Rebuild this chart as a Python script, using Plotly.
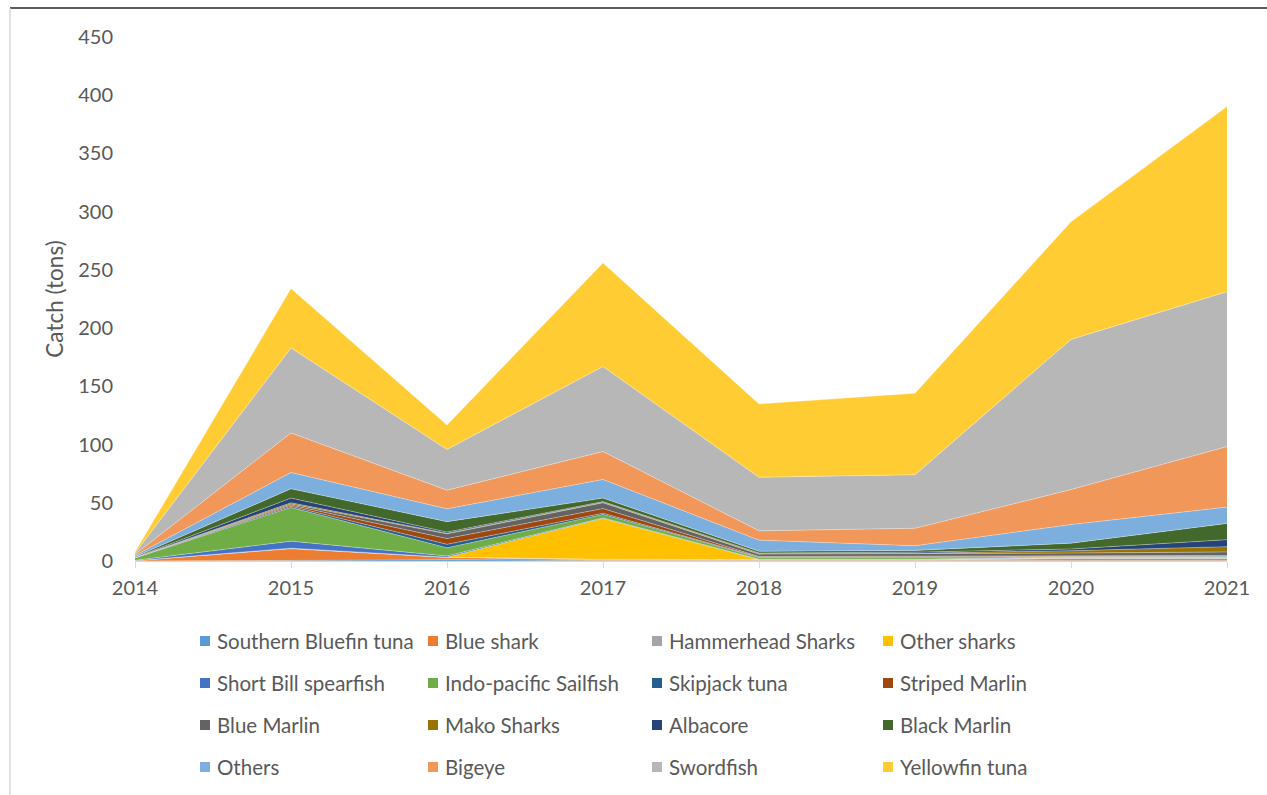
import plotly.graph_objects as go

years = [2014, 2015, 2016, 2017, 2018, 2019, 2020, 2021]

series_names = [
    "Southern Bluefin tuna", "Blue shark", "Hammerhead Sharks", "Other sharks",
    "Short Bill spearfish", "Indo-pacific Sailfish", "Skipjack tuna", "Striped Marlin",
    "Blue Marlin", "Mako Sharks", "Albacore", "Black Marlin",
    "Others", "Bigeye", "Swordfish", "Yellowfin tuna",
]

southern_bluefin = [0.0, 0.5, 1.0, 0.5, 0.3, 0.3, 0.5, 0.5]
blue_shark       = [0.3, 10.0, 2.0, 0.5, 0.5, 0.5, 1.5, 1.5]
hammerhead       = [0.0, 0.5, 0.3, 0.5, 0.5, 0.5, 0.5, 0.5]
other_sharks     = [0.0, 0.0, 0.0, 35.0, 0.0, 0.0, 0.5, 0.5]
short_bill       = [0.3, 6.0, 1.0, 0.5, 0.3, 0.3, 0.3, 0.3]
sailfish         = [2.0, 29.0, 7.0, 3.0, 1.5, 1.5, 0.5, 0.5]
skipjack         = [0.2, 1.0, 3.0, 1.0, 0.3, 0.5, 0.5, 0.5]
striped_marlin   = [0.1, 1.0, 5.0, 4.0, 0.5, 0.5, 0.5, 0.5]
blue_marlin      = [0.1, 1.0, 4.0, 5.0, 2.0, 2.0, 2.0, 3.0]
mako             = [0.1, 1.0, 0.5, 0.5, 0.5, 0.5, 2.0, 4.5]
albacore         = [0.1, 4.0, 1.0, 0.5, 0.5, 1.0, 1.5, 6.0]
black_marlin     = [0.5, 8.0, 9.0, 3.0, 1.5, 1.5, 5.0, 14.0]
others           = [1.0, 14.0, 11.0, 16.0, 9.5, 4.0, 16.0, 14.0]
bigeye           = [1.0, 34.0, 16.0, 24.0, 8.0, 15.0, 30.0, 52.0]
swordfish        = [1.0, 73.0, 35.0, 73.0, 46.0, 46.0, 129.0, 133.0]
yellowfin        = [1.0, 51.0, 21.0, 89.0, 63.0, 70.0, 101.0, 159.0]

series_values = [
    southern_bluefin, blue_shark, hammerhead, other_sharks,
    short_bill, sailfish, skipjack, striped_marlin,
    blue_marlin, mako, albacore, black_marlin,
    others, bigeye, swordfish, yellowfin,
]

colors = [
    "#5B9BD5", "#ED7D31", "#A5A5A5", "#FFC000",
    "#4472C4", "#70AD47", "#255E91", "#9E480E",
    "#636363", "#997300", "#264478", "#43682B",
    "#7CAFDD", "#F1975A", "#B7B7B7", "#FFCD33",
]

y_ticks = [0, 50, 100, 150, 200, 250, 300, 350, 400, 450]

W, H = 1267, 795
L, R, T, B = 135, 40, 37, 234
PW, PH = W - L - R, H - T - B

def px_to_paper(px, py):
    return (px - L) / PW, (H - B - py) / PH

FONT = "Lato, Calibri, 'Liberation Sans', sans-serif"
TXT = "#595959"

fig = go.Figure()
for name, vals, col in zip(series_names, series_values, colors):
    fig.add_trace(go.Scatter(
        x=years, y=vals, name=name, mode="lines", stackgroup="one",
        fillcolor=col, line=dict(width=0.6, color="rgba(255,255,255,0.55)"),
        showlegend=False,
    ))

# manual legend (4 columns x 4 rows)
col_x = [200, 428, 652, 883]
row_y = [641, 683, 725, 767]
shapes = []
annotations = []
for i, (name, col) in enumerate(zip(series_names, colors)):
    r, c = divmod(i, 4)
    x0, y0 = px_to_paper(col_x[c], row_y[r] - 5)
    x1, y1 = px_to_paper(col_x[c] + 10, row_y[r] + 5)
    shapes.append(dict(type="rect", xref="paper", yref="paper", x0=x0, x1=x1,
                       y0=y1, y1=y0, fillcolor=col, line=dict(width=0)))
    tx, ty = px_to_paper(col_x[c] + 15, row_y[r])
    annotations.append(dict(text=name, xref="paper", yref="paper", x=tx, y=ty,
                            xanchor="left", yanchor="middle", showarrow=False,
                            font=dict(size=20.5, color=TXT, family=FONT)))

# frame lines
fx0, fy0 = px_to_paper(10, 8)
fx1, _ = px_to_paper(W, 8)
_, fyb = px_to_paper(10, H)
shapes.append(dict(type="line", xref="paper", yref="paper", x0=fx0, x1=fx1, y0=fy0, y1=fy0,
                   line=dict(color="#262626", width=1.5)))
shapes.append(dict(type="line", xref="paper", yref="paper", x0=fx0, x1=fx0, y0=fy0, y1=fyb,
                   line=dict(color="#D9D9D9", width=1.5)))

fig.update_layout(
    width=W, height=H,
    margin=dict(l=L, r=R, t=T, b=B),
    paper_bgcolor="white", plot_bgcolor="white",
    font=dict(family=FONT, size=20, color=TXT),
    shapes=shapes, annotations=annotations,
    showlegend=False,
    xaxis=dict(
        range=[2014, 2021], tickvals=years, ticktext=[str(y) for y in years],
        showgrid=False, zeroline=False, showline=True, linecolor="#D9D9D9", linewidth=1,
        ticks="outside", ticklen=6, tickcolor="#D9D9D9", ticklabelstandoff=3,
        tickfont=dict(size=20, color=TXT, family=FONT),
    ),
    yaxis=dict(
        range=[0, 450], tickvals=y_ticks, showgrid=False, zeroline=False, showline=False,
        ticks="", tickfont=dict(size=20, color=TXT, family=FONT), ticklabelstandoff=21,
        title=dict(text="Catch (tons)", font=dict(size=22.5, color=TXT, family=FONT), standoff=8),
    ),
)

fig.write_html("out.html")
